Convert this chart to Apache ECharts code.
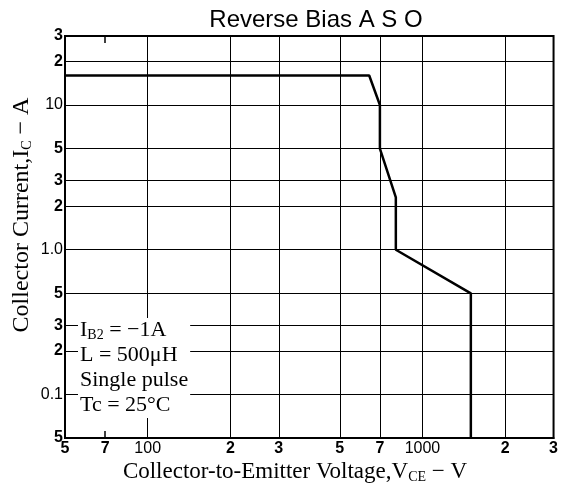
<!DOCTYPE html>
<html><head><meta charset="utf-8">
<script src="https://cdn.jsdelivr.net/npm/echarts@6/dist/echarts.min.js"></script>
<style>html,body{margin:0;padding:0;background:#fff}#c{width:561px;height:493px}</style>
</head><body><div id="c"></div>
<script>
// Data
const vce = [50, 640, 700, 700, 800, 800, 1500, 1500];
const ic  = [16, 16, 10, 5, 2.3, 1.0, 0.5, 0.05];
// Axis ticks / labels
const xGridValues = [100, 200, 300, 500, 700, 1000, 2000];
const xMinorTicks = [70];
const xLabelValues = [50, 70, 100, 200, 300, 500, 700, 1000, 2000, 3000];
const xLabelTexts  = ['5', '7', '100', '2', '3', '5', '7', '1000', '2', '3'];
const yGridValues = [0.1, 0.2, 0.3, 0.5, 1, 2, 3, 5, 10, 20];
const yLabelValues = [0.05, 0.1, 0.2, 0.3, 0.5, 1, 2, 3, 5, 10, 20, 30];
const yLabelTexts  = ['5', '0.1', '2', '3', '5', '1.0', '2', '3', '5', '10', '2', '3'];

function lookup(vals, texts, v) {
  for (let i = 0; i < vals.length; i++) {
    if (Math.abs(vals[i] - v) / vals[i] < 1e-6) {
      const t = texts[i];
      return t.length === 1 ? '{b|' + t + '}' : '{n|' + t + '}';
    }
  }
  return '';
}
const labelRich = {
  b: {fontFamily: 'Liberation Sans', fontWeight: 'bold', fontSize: 16, color: '#000'},
  n: {fontFamily: 'Liberation Sans', fontWeight: 'normal', fontSize: 16, color: '#000'}
};
const subStyle = {fontFamily: 'Liberation Serif', fontSize: 14, fill: '#000', padding: [10, 0, 0, 0]};

const chart = echarts.init(document.getElementById('c'));
const xMin = 50, xMax = 3000, yMin = 0.05, yMax = 30;
chart.setOption({
  animation: false,
  backgroundColor: '#fff',
  title: {
    text: 'Reverse Bias A S O', left: 311, textAlign: 'center', top: 3,
    textStyle: {fontFamily: 'Liberation Sans', fontWeight: 'normal', fontSize: 24, color: '#000'}
  },
  grid: {left: 65, right: 4, top: 36, bottom: 55, show: true, borderColor: '#000', borderWidth: 2, backgroundColor: 'transparent'},
  xAxis: [
    {
      type: 'log', logBase: 10, min: xMin, max: xMax, position: 'bottom',
      axisLine: {show: true, lineStyle: {color: '#000', width: 2}},
      axisTick: {show: false, customValues: xGridValues},
      splitLine: {show: true, lineStyle: {color: '#000', width: 1}},
      axisLabel: {customValues: xLabelValues, margin: 3, formatter: v => lookup(xLabelValues, xLabelTexts, v), rich: labelRich}
    },
    {
      type: 'log', logBase: 10, min: xMin, max: xMax, position: 'bottom',
      axisLine: {show: false},
      axisTick: {show: true, inside: true, length: 7, customValues: xMinorTicks, lineStyle: {color: '#000', width: 1.5}},
      splitLine: {show: false}, axisLabel: {show: false}
    },
    {
      type: 'log', logBase: 10, min: xMin, max: xMax, position: 'top',
      axisLine: {show: false},
      axisTick: {show: true, inside: true, length: 7, customValues: xMinorTicks, lineStyle: {color: '#000', width: 1.5}},
      splitLine: {show: false}, axisLabel: {show: false}
    }
  ],
  yAxis: {
    type: 'log', logBase: 10, min: yMin, max: yMax,
    axisLine: {show: true, lineStyle: {color: '#000', width: 2}},
    axisTick: {show: false, customValues: yGridValues},
    splitLine: {show: true, lineStyle: {color: '#000', width: 1}},
    axisLabel: {customValues: yLabelValues, margin: 2, formatter: v => lookup(yLabelValues, yLabelTexts, v), rich: labelRich}
  },
  series: [{
    type: 'line', xAxisIndex: 0, yAxisIndex: 0,
    data: vce.map((x, i) => [x, ic[i]]),
    showSymbol: false, symbol: 'none',
    lineStyle: {color: '#000', width: 2.5}
  }],
  graphic: [
    {
      type: 'text', left: 78, top: 318, z: 100,
      style: {
        text: 'I{s|B2} = −1A\nL = 500μH\nSingle pulse\nTc = 25°C',
        fontFamily: 'Liberation Serif', fontSize: 22, lineHeight: 25, fill: '#000',
        backgroundColor: '#fff', padding: [0, 2, 0, 2],
        rich: {s: subStyle}
      }
    },
    {
      type: 'text', x: 295, y: 472, z: 100,
      style: {
        text: 'Collector-to-Emitter Voltage,V{s|CE} − V', align: 'center', verticalAlign: 'middle',
        fontFamily: 'Liberation Serif', fontSize: 23, fill: '#000',
        rich: {s: subStyle}
      }
    },
    {
      type: 'text', x: 22, y: 215, rotation: Math.PI / 2, z: 100,
      style: {
        text: 'Collector Current,I{s|C} − A', align: 'center', verticalAlign: 'middle',
        fontFamily: 'Liberation Serif', fontSize: 24, fill: '#000',
        rich: {s: subStyle}
      }
    }
  ]
});
</script></body></html>
